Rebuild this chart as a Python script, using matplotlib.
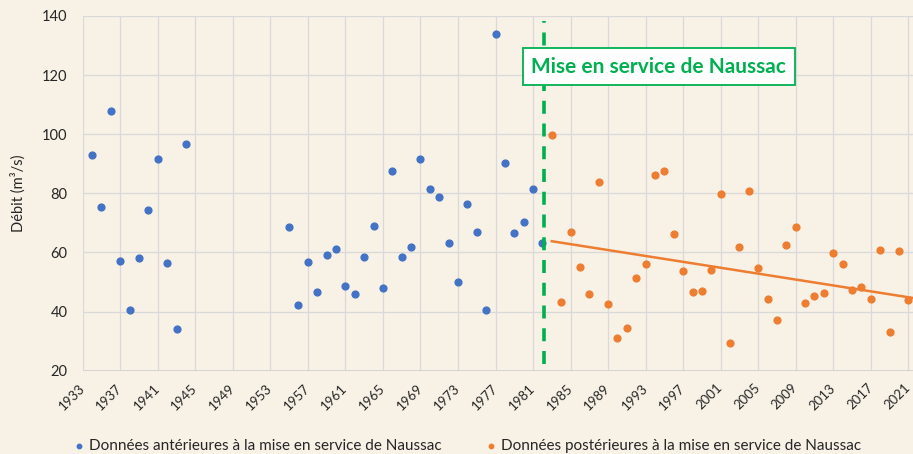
import numpy as np
import matplotlib.pyplot as plt

plt.rcParams['font.family'] = ['Lato', 'DejaVu Sans']

# débits avant Naussac
annees_avant = [1934, 1935, 1936, 1937, 1938, 1939, 1940, 1941, 1942, 1943, 1944,
                1955, 1956, 1957, 1958, 1959, 1960, 1961, 1962, 1963, 1964, 1965,
                1966, 1967, 1968, 1969, 1970, 1971, 1972, 1973, 1974, 1975, 1976,
                1977, 1978, 1979, 1980, 1981, 1982]
debit_avant = [93, 75.5, 108, 57, 40.5, 58.2, 74.5, 91.7, 56.4, 34, 96.6,
               68.7, 42.2, 56.8, 46.5, 59, 61.3, 48.8, 46, 58.5, 69, 48,
               87.5, 58.5, 61.8, 91.7, 81.6, 78.7, 63.3, 49.9, 76.3, 66.8, 40.5,
               133.8, 90.2, 66.5, 70.2, 81.5, 63.3]

# débits après Naussac
annees_apres = list(range(1983, 2022))
debit_apres = [99.8, 43.1, 66.8, 55.1, 46.1, 83.9, 42.6, 31.2, 34.6, 51.4,
               56.2, 86.1, 87.5, 66.3, 53.6, 46.6, 46.9, 54, 79.9, 29.5,
               62, 80.9, 54.9, 44.3, 37.2, 62.5, 68.5, 42.8, 45.4, 46.3,
               59.9, 56, 47.4, 48.3, 44.3, 60.7, 33.2, 60.5, 43.9]

# courbe de tendance
tendance_annees = [1983, 2021.5]
tendance_debit = [63.8, 44.6]

mise_en_service = 1982.2
xticks = list(range(1933, 2022, 4))

bleu = '#4472C4'
orange = '#ED7D31'
vert = '#00B050'
gris = '#262626'

fig = plt.figure(figsize=(9.13, 4.54), dpi=100, facecolor='#f7f1e6')
ax = fig.add_axes([0.0906, 0.1835, 0.9094, 0.7813])
ax.set_facecolor('none')

ax.scatter(annees_avant, debit_avant, s=24, color=bleu, zorder=3,
           label='Données antérieures à la mise en service de Naussac')
ax.scatter(annees_apres, debit_apres, s=24, color=orange, zorder=3,
           label='Données postérieures à la mise en service de Naussac')

ax.plot(tendance_annees, tendance_debit, color=orange, lw=1.8, zorder=2)

ax.vlines(mise_en_service, 22.3, 138.3, color=vert, lw=2.6,
          linestyles=(0, (3.6, 2.7)), zorder=4)
ax.text(1994.4, 122.8, 'Mise en service de Naussac', color=vert, fontsize=15,
        fontweight='bold', ha='center', va='center', zorder=5,
        bbox=dict(boxstyle='square,pad=0.4', fc='white', ec=vert, lw=1.3))

ax.set_xlim(1933, 2021.5)
ax.set_ylim(20, 140)
ax.set_xticks(xticks)
ax.set_yticks(range(20, 141, 20))
ax.tick_params(length=0, colors=gris)
ax.tick_params(axis='y', labelsize=10.5, pad=11)
ax.tick_params(axis='x', labelsize=9.5, pad=11)
plt.setp(ax.get_xticklabels(), rotation=45, ha='right', va='center',
         rotation_mode='anchor')
ax.grid(True, color='#d9d9d9', lw=0.9)
ax.set_axisbelow(True)
for s in ax.spines.values():
    s.set_visible(False)
ax.axhline(20, color='#cfcfcf', lw=1.2, zorder=1)

ax.set_ylabel('Débit (m³/s)', fontsize=10.5, color=gris, labelpad=12)

ax.legend(loc='center left', bbox_to_anchor=(0.0807, 0.0176),
          bbox_transform=fig.transFigure, ncol=2, frameon=False, fontsize=11,
          handlelength=0.7, handletextpad=0.3, columnspacing=2.9,
          markerscale=0.65, borderaxespad=0, borderpad=0, labelcolor=gris)

fig.savefig('out.png', dpi=100, facecolor=fig.get_facecolor())
